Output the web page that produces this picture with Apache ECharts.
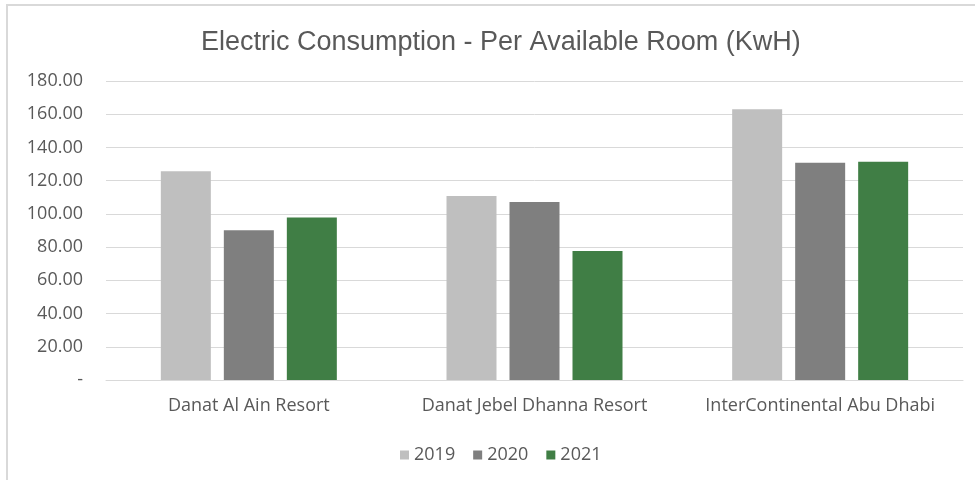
<!DOCTYPE html>
<html>
<head>
<meta charset="utf-8">
<script src="https://cdn.jsdelivr.net/npm/echarts@6/dist/echarts.min.js"></script>
<style>
  body { margin: 0; background: #fff; }
  #frame { position: absolute; left: 6px; top: 4px; width: 1000px; height: 500px; border: 2px solid #d9d9d9; box-sizing: border-box; }
  #chart { position: absolute; left: 0; top: 0; width: 975px; height: 480px; }
</style>
</head>
<body>
<div id="frame"></div>
<div id="chart"></div>
<script>
  // values (KwH per available room)
  const hotels = ['Danat Al Ain Resort', 'Danat Jebel Dhanna Resort', 'InterContinental Abu Dhabi'];
  const years = ['2019', '2020', '2021'];
  const data2019 = [125.6, 110.8, 163.0];
  const data2020 = [90.1, 107.2, 130.8];
  const data2021 = [97.9, 77.7, 131.4];
  const colors = ['#bfbfbf', '#7f7f7f', '#407e45'];

  const font = 'Open Sans';
  const chart = echarts.init(document.getElementById('chart'));

  let series = [];
  [data2019, data2020, data2021].forEach(function (vals, i) {
    series.push({
      name: years[i],
      type: 'bar',
      barWidth: 50,
      barGap: '26%',
      itemStyle: { color: colors[i] },
      data: vals
    });
  });

  chart.setOption({
    animation: false,
    color: colors,
    title: {
      text: 'Electric Consumption - Per Available Room (KwH)',
      left: 196,
      top: 24,
      textStyle: { fontFamily: 'Liberation Sans', fontSize: 27, fontWeight: 'normal', color: '#595959' }
    },
    legend: {
      data: years,
      left: 395,
      top: 441,
      itemWidth: 9,
      itemHeight: 9,
      itemGap: 18,
      icon: 'rect',
      textStyle: { fontFamily: font, fontSize: 18, color: '#595959' }
    },
    grid: { left: 106, right: 12, top: 81, bottom: 100 },
    xAxis: {
      type: 'category',
      data: hotels,
      axisLine: { lineStyle: { color: '#d9d9d9', width: 1 } },
      axisTick: { show: false },
      axisLabel: { interval: 0, margin: 17, fontFamily: font, fontSize: 18, color: '#595959' }
    },
    yAxis: {
      type: 'value',
      min: 0,
      max: 180,
      interval: 20,
      axisLine: { show: false },
      axisTick: { show: false },
      splitLine: { lineStyle: { color: '#d9d9d9', width: 1 } },
      axisLabel: {
        margin: 23,
        fontFamily: font,
        fontSize: 18,
        color: '#595959',
        formatter: function (v) { return v === 0 ? '-' : v.toFixed(2); }
      }
    },
    series: series
  });
</script>
</body>
</html>
